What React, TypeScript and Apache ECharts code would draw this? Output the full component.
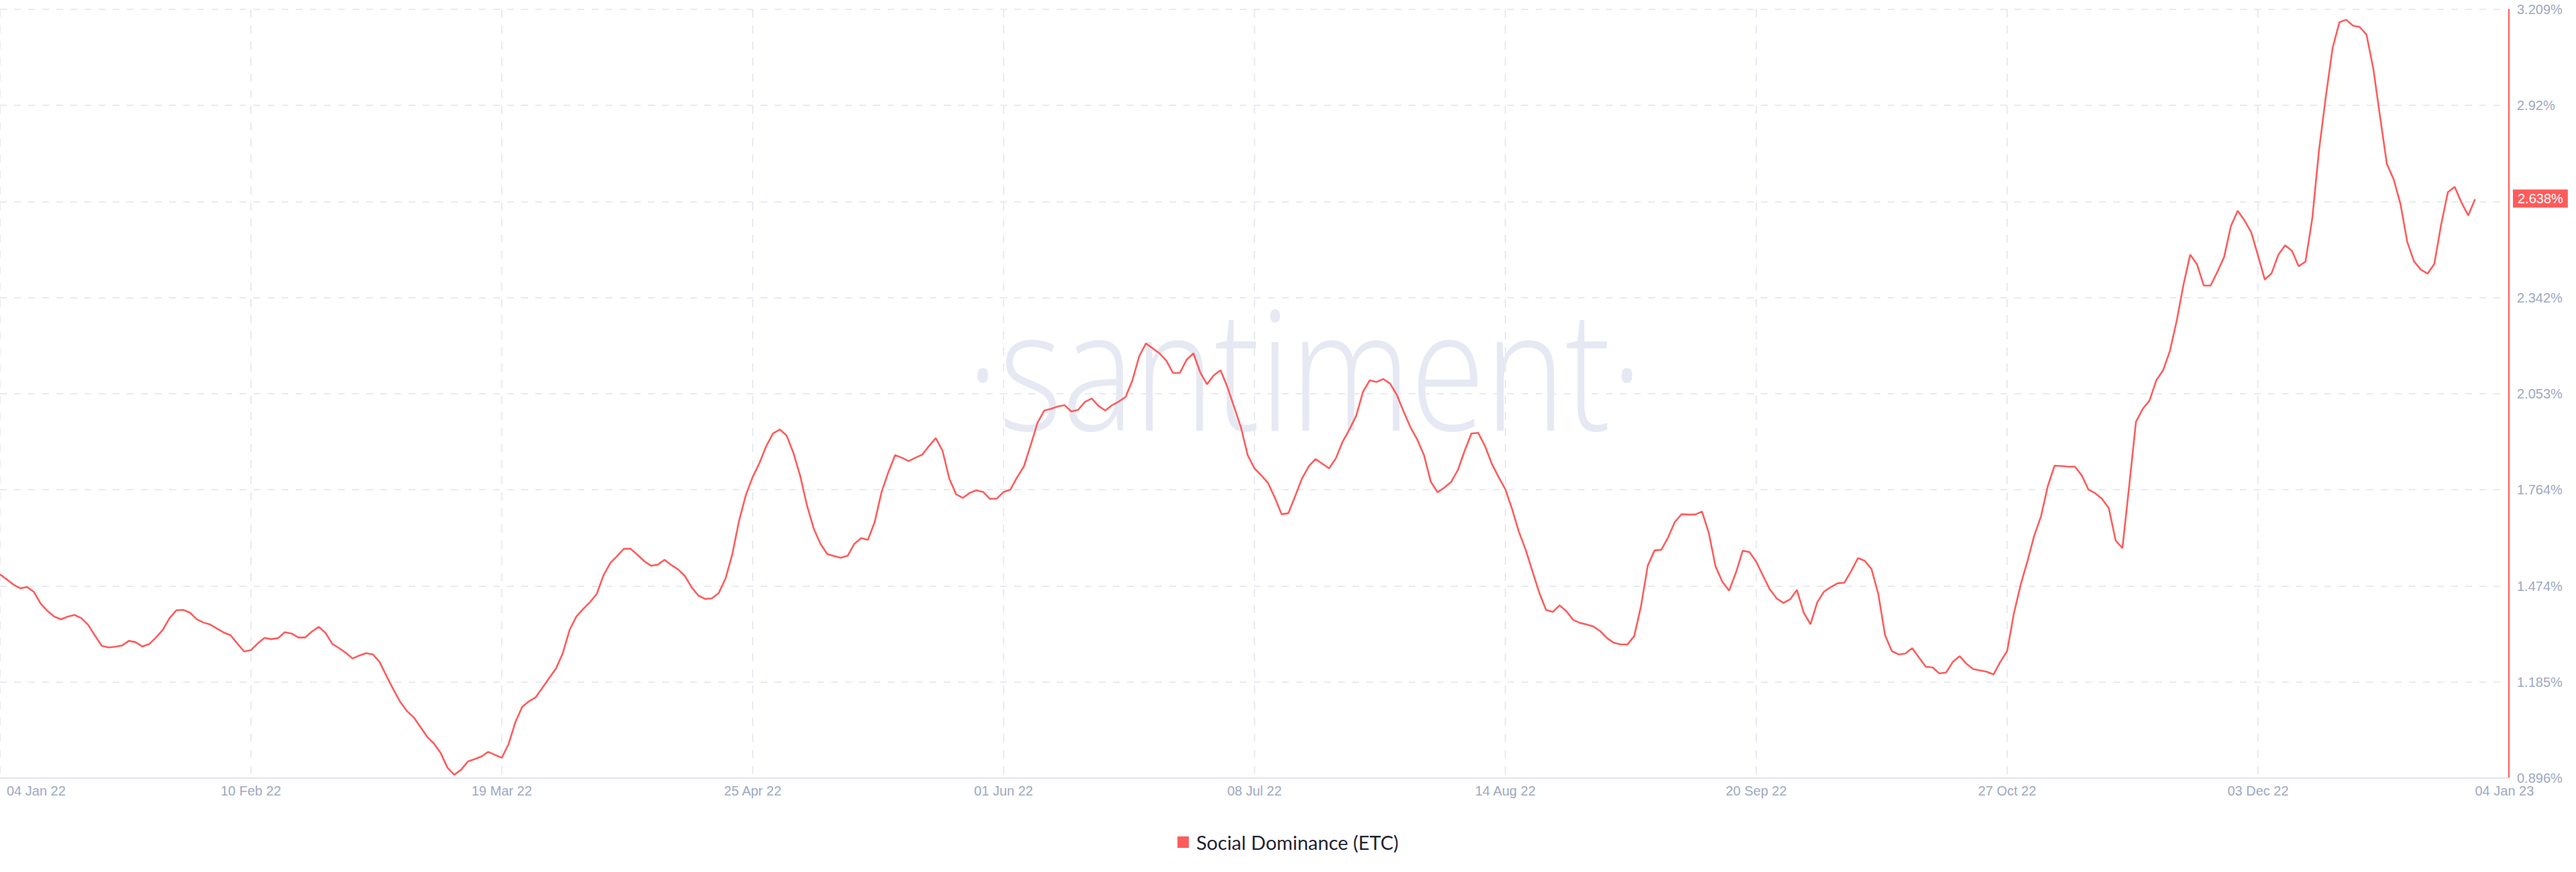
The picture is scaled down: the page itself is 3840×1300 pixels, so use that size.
import React, { useEffect, useRef } from "react";
import * as echarts from "echarts";

// ---- X axis (days counted from 04 Jan 2022) ----
const X_TICK_DAYS = [0, 37, 74, 111, 148, 185, 222, 259, 296, 333];
const X_LABEL_DAYS = [0, 37, 74, 111, 148, 185, 222, 259, 296, 333, 365];
const X_LABELS = [
  "04 Jan 22", "10 Feb 22", "19 Mar 22", "25 Apr 22", "01 Jun 22", "08 Jul 22",
  "14 Aug 22", "20 Sep 22", "27 Oct 22", "03 Dec 22", "04 Jan 23",
];
const X_MAX_DAY = 370;

// ---- Y axis ----
const Y_MIN = 0.896;
const Y_MAX = 3.209;
const Y_TICKS = [0.896, 1.185, 1.474, 1.764, 2.053, 2.342, 2.631, 2.92, 3.209];
const Y_LABEL_VALUES = [0.896, 1.185, 1.474, 1.764, 2.053, 2.342, 2.92, 3.209];

// ---- Social Dominance (ETC), daily, % ----
const JAN_22 = [1.509,1.494,1.478,1.467,1.471,1.456,1.421,1.399,1.382,1.374,1.382,1.387,1.377,1.357,1.325,1.294,1.289,1.291,1.295,1.309,1.305,1.292,1.299,1.319,1.342,1.377,1.401,1.402];
const FEB_22 = [1.394,1.374,1.364,1.358,1.346,1.334,1.326,1.301,1.277,1.281,1.301,1.318,1.314,1.317,1.335,1.331,1.319,1.319,1.337,1.351,1.333,1.300,1.287,1.273,1.256,1.265,1.272,1.268];
const MAR_22 = [1.245,1.203,1.163,1.126,1.098,1.079,1.050,1.020,1.000,0.971,0.927,0.906,0.921,0.946,0.953,0.961,0.975,0.966,0.957,0.998,1.064,1.110,1.127,1.139,1.168,1.197,1.226,1.272,1.342,1.382,1.405];
const APR_22 = [1.425,1.450,1.506,1.543,1.564,1.586,1.586,1.568,1.549,1.535,1.538,1.553,1.537,1.524,1.504,1.470,1.445,1.435,1.437,1.453,1.497,1.570,1.671,1.748,1.802,1.844,1.895,1.933,1.945,1.927];
const MAY_22 = [1.875,1.806,1.717,1.647,1.601,1.570,1.564,1.559,1.565,1.601,1.618,1.613,1.667,1.756,1.816,1.868,1.860,1.850,1.860,1.869,1.895,1.919,1.881,1.797,1.750,1.739,1.754,1.762,1.757,1.736,1.737];
const JUN_22 = [1.757,1.764,1.801,1.834,1.898,1.965,2.002,2.007,2.014,2.018,1.999,2.004,2.028,2.038,2.016,2.002,2.018,2.029,2.043,2.093,2.165,2.204,2.189,2.174,2.152,2.115,2.115,2.155,2.174,2.117];
const JUL_22 = [2.081,2.108,2.123,2.073,2.013,1.952,1.868,1.828,1.807,1.784,1.740,1.690,1.693,1.744,1.797,1.834,1.856,1.842,1.828,1.858,1.908,1.945,1.986,2.058,2.093,2.088,2.097,2.083,2.049,1.999,1.952];
const AUG_22 = [1.915,1.868,1.788,1.756,1.770,1.787,1.823,1.881,1.933,1.935,1.895,1.842,1.802,1.765,1.705,1.637,1.583,1.518,1.454,1.402,1.396,1.416,1.398,1.372,1.363,1.358,1.352,1.338,1.317,1.303,1.298];
const SEP_22 = [1.298,1.323,1.413,1.535,1.581,1.583,1.620,1.667,1.690,1.689,1.689,1.698,1.634,1.533,1.487,1.460,1.514,1.580,1.576,1.547,1.505,1.464,1.437,1.423,1.434,1.462,1.394,1.359,1.425,1.457];
const OCT_22 = [1.471,1.482,1.484,1.519,1.558,1.550,1.525,1.450,1.326,1.278,1.268,1.271,1.287,1.259,1.231,1.229,1.211,1.214,1.246,1.263,1.240,1.224,1.220,1.216,1.208,1.246,1.278,1.392,1.478,1.549,1.626];
const NOV_22 = [1.684,1.775,1.836,1.835,1.833,1.833,1.807,1.764,1.753,1.736,1.708,1.611,1.588,1.775,1.968,2.007,2.032,2.093,2.123,2.181,2.271,2.380,2.471,2.442,2.378,2.378,2.419,2.464,2.557,2.603];
const DEC_22 = [2.574,2.538,2.468,2.396,2.415,2.471,2.499,2.483,2.436,2.450,2.580,2.786,2.947,3.093,3.170,3.178,3.160,3.156,3.133,3.031,2.886,2.744,2.698,2.624,2.510,2.451,2.426,2.414,2.443,2.561,2.659];
const JAN_23 = [2.675,2.628,2.589,2.638];

const SERIES_NAME = "Social Dominance (ETC)";
const RED = "#ff5b5b";
const AXIS_TEXT = "#9ea8c2";
const GRID_COLOR = "#e8eaf3";

export default function App() {
  const ref = useRef<HTMLDivElement>(null);

  useEffect(() => {
    document.body.style.margin = "0";
    if (!ref.current) return;
    const chart = echarts.init(ref.current, null, { renderer: "svg" });

    const values = [
      ...JAN_22, ...FEB_22, ...MAR_22, ...APR_22, ...MAY_22, ...JUN_22,
      ...JUL_22, ...AUG_22, ...SEP_22, ...OCT_22, ...NOV_22, ...DEC_22, ...JAN_23,
    ];
    const data = values.map((v, i) => [i, v]);
    const last = values[values.length - 1];

    const labelFont = "'Liberation Sans', Arial, sans-serif";

    chart.setOption({
      animation: false,
      backgroundColor: "#ffffff",
      graphic: [
        {
          type: "text",
          silent: true,
          z: -10,
          x: 1945,
          y: 545,
          scaleX: 0.81,
          style: {
            text: "·santiment·",
            fontSize: 250,
            fontFamily: "'Open Sans', 'Noto Sans', sans-serif",
            fontWeight: 300,
            fill: "#e6e9f3",
            textAlign: "center",
            textVerticalAlign: "middle",
          },
        },
      ],
      grid: { left: 0, right: 100, top: 14, bottom: 140, containLabel: false },
      legend: {
        top: 1236,
        left: "center",
        icon: "rect",
        itemWidth: 17,
        itemHeight: 17,
        textStyle: {
          fontFamily: "Lato, 'Noto Sans', sans-serif",
          fontSize: 29,
          color: "#1f2434",
          padding: [0, 0, 0, 6],
        },
        data: [{ name: SERIES_NAME, itemStyle: { color: RED } }],
      },
      xAxis: {
        type: "value",
        min: 0,
        max: X_MAX_DAY,
        axisLine: { show: true, onZero: false, lineStyle: { color: "#e2e5ee", width: 2 } },
        axisTick: { show: false, customValues: X_TICK_DAYS },
        splitLine: {
          show: true,
          lineStyle: { color: GRID_COLOR, width: 2, type: [12, 12] },
        },
        axisLabel: {
          customValues: X_LABEL_DAYS,
          margin: 9,
          color: AXIS_TEXT,
          fontSize: 20,
          fontFamily: labelFont,
          alignMinLabel: "left",
          alignMaxLabel: "left",
          formatter: (v: number) => {
            const idx = X_LABEL_DAYS.indexOf(Math.round(v));
            if (idx < 0) return "";
            return idx === 0 ? "{first|" + X_LABELS[idx] + "}" : X_LABELS[idx];
          },
          rich: {
            first: {
              color: AXIS_TEXT,
              fontSize: 20,
              fontFamily: labelFont,
              padding: [0, 0, 0, 10],
            },
          },
        },
      },
      yAxis: {
        type: "value",
        position: "right",
        min: Y_MIN,
        max: Y_MAX,
        axisLine: { show: true, onZero: false, lineStyle: { color: RED, width: 2 } },
        axisTick: { show: false, customValues: Y_TICKS },
        splitLine: {
          show: true,
          lineStyle: { color: GRID_COLOR, width: 2, type: [10, 11] },
        },
        axisLabel: {
          customValues: Y_LABEL_VALUES,
          margin: 12,
          color: AXIS_TEXT,
          fontSize: 20,
          fontFamily: labelFont,
          formatter: (v: number) => String(Math.round(v * 1000) / 1000) + "%",
        },
      },
      series: [
        {
          name: SERIES_NAME,
          type: "line",
          data,
          showSymbol: false,
          symbol: "none",
          z: 5,
          lineStyle: { color: RED, width: 2.6 },
          itemStyle: { color: RED },
          markLine: {
            silent: true,
            symbol: ["none", "none"],
            lineStyle: { color: "rgba(255,255,255,0)", width: 0 },
            label: {
              show: true,
              position: "end",
              distance: 6,
              formatter: () => String(last) + "%",
              backgroundColor: RED,
              color: "#ffffff",
              fontSize: 20,
              fontFamily: labelFont,
              padding: [4, 7, 3, 7],
              borderRadius: 0,
              opacity: 1,
            },
            data: [{ yAxis: last }],
          },
        },
      ],
    });

    return () => chart.dispose();
  }, []);

  return <div ref={ref} style={{ width: 3840, height: 1300 }} />;
}
